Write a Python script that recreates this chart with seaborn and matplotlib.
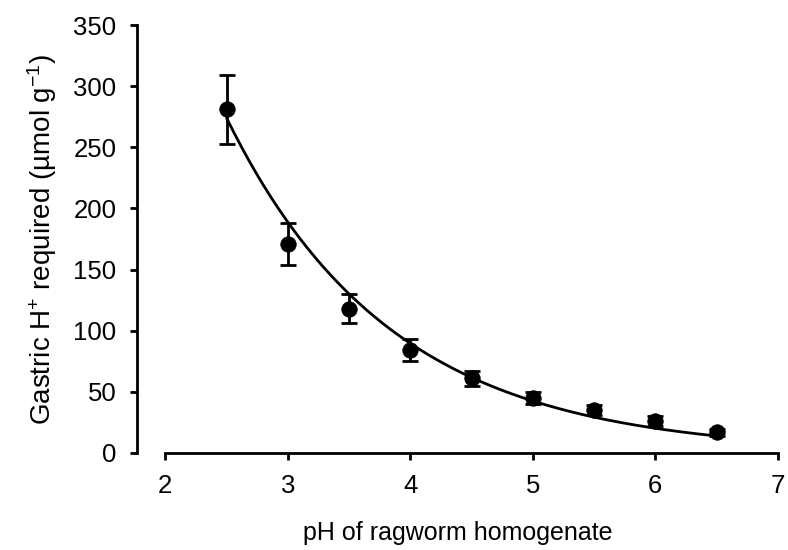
import numpy as np
import pandas as pd
import matplotlib
matplotlib.use("Agg")
import matplotlib.pyplot as plt
import seaborn as sns

# Mean gastric acid required per homogenate pH, with error (±)
ph = [2.5, 3.0, 3.5, 4.0, 4.5, 5.0, 5.5, 6.0, 6.5]
h_required = [281, 171, 118, 84, 61, 45, 35, 26, 17]
h_error = [28, 17, 12, 9, 6, 5, 4, 4, 3]

# Exponential fit: y = fit_a * exp(-fit_k * pH)
fit_a = 1765.0
fit_k = 0.745

x_ticks = [2, 3, 4, 5, 6, 7]
y_ticks = [0, 50, 100, 150, 200, 250, 300, 350]

sns.set_theme(style="ticks")
plt.rcParams["font.family"] = ["Liberation Sans", "DejaVu Sans"]
plt.rcParams["mathtext.fontset"] = "custom"
plt.rcParams["mathtext.rm"] = "Liberation Sans"
plt.rcParams["mathtext.it"] = "Liberation Sans"
plt.rcParams["text.color"] = "black"
plt.rcParams["axes.labelcolor"] = "black"

df = pd.DataFrame({"ph": ph, "h": h_required, "err": h_error})
curve_x = np.linspace(min(ph), max(ph), 200)
curve = pd.DataFrame({"ph": curve_x, "h": fit_a * np.exp(-fit_k * curve_x)})

fig = plt.figure(figsize=(7.88, 5.5), dpi=100)
ax = fig.add_axes([0.174, 0.1764, 0.813, 0.7781])

sns.lineplot(data=curve, x="ph", y="h", color="black", linewidth=2.0, ax=ax)
ax.errorbar(df["ph"], df["h"], yerr=df["err"], fmt="none", ecolor="black",
            elinewidth=2.0, capsize=5.5, capthick=2.0, zorder=3)
sns.scatterplot(data=df, x="ph", y="h", color="black", s=125, marker="o",
                edgecolor="black", linewidth=0.5, zorder=4, ax=ax)

ax.set_xlim(1.77, 7.0)
ax.set_ylim(0, 350)
ax.set_xticks(x_ticks)
ax.set_yticks(y_ticks)
ax.spines["bottom"].set_bounds(2, 7)
for side in ("top", "right"):
    ax.spines[side].set_visible(False)
for side in ("left", "bottom"):
    ax.spines[side].set_linewidth(2.0)
    ax.spines[side].set_color("black")
ax.tick_params(axis="both", which="major", labelsize=18.5, length=5, width=2.0,
               color="black", labelcolor="black")
ax.tick_params(axis="y", pad=10)
ax.tick_params(axis="x", pad=10)

ax.set_xlabel("pH of ragworm homogenate", fontsize=18, labelpad=17)
ax.set_ylabel("Gastric H$^{+}$ required (µmol g$^{-1}$)", fontsize=20, labelpad=10)

fig.savefig("out.png", dpi=100)
